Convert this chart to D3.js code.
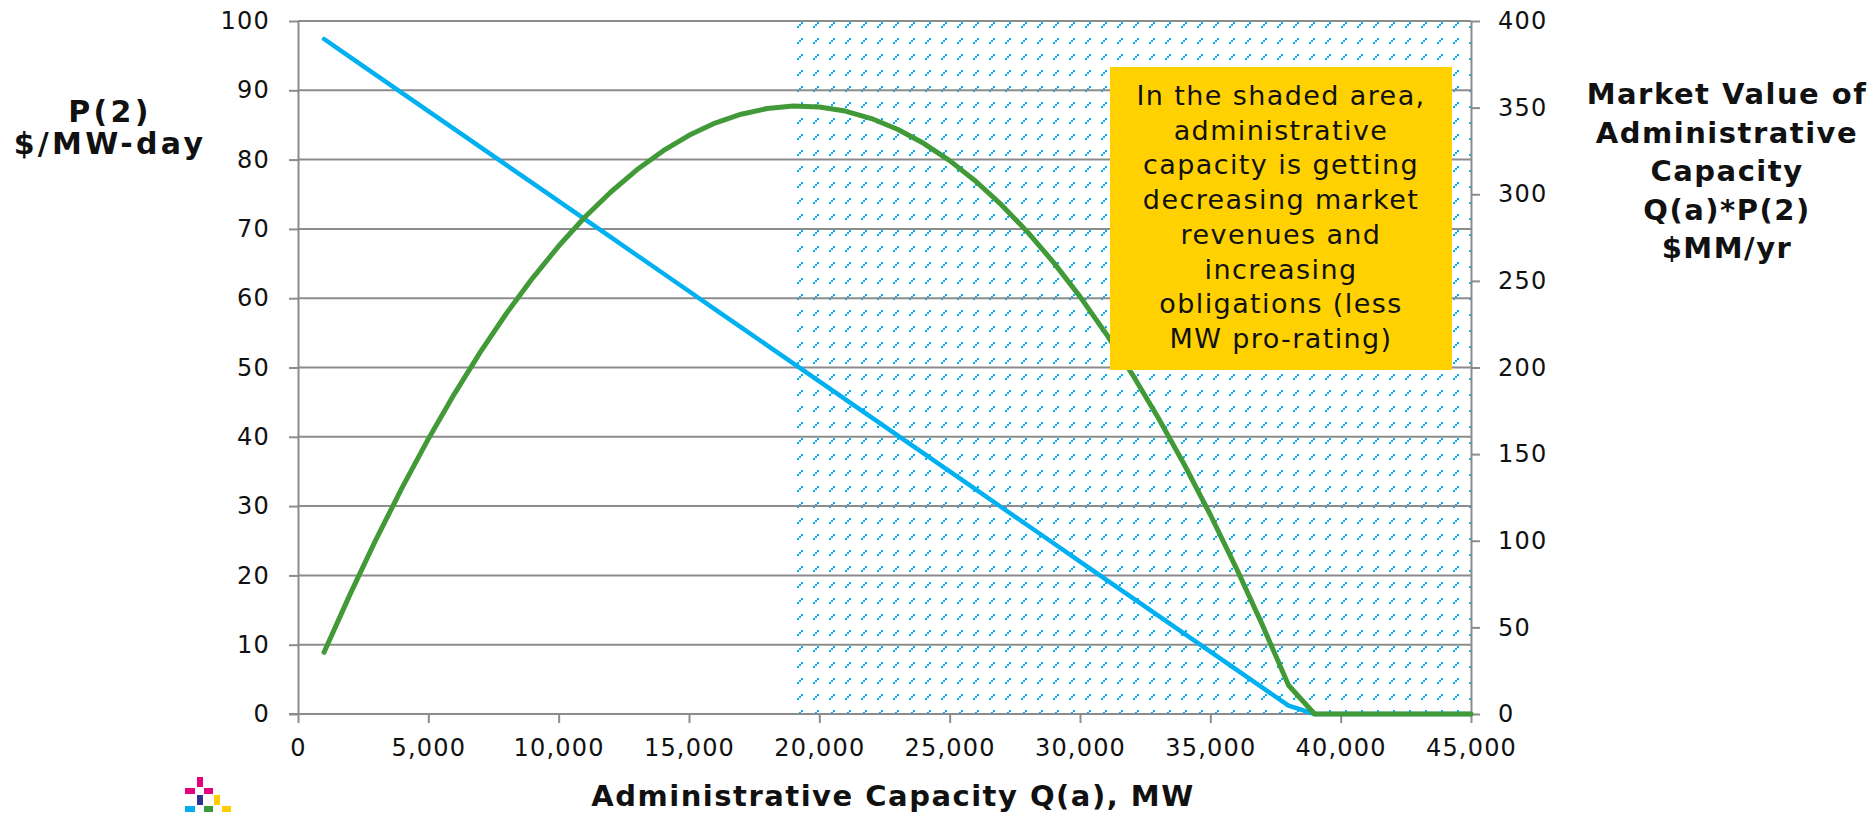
<!DOCTYPE html>
<html>
<head>
<meta charset="utf-8">
<script src="https://cdn.jsdelivr.net/npm/d3@7"></script>
<style>
  body { margin: 0; background: #fff; }
  svg text { font-family: "DejaVu Sans", Verdana, sans-serif; fill: #111; }
  .tick text { font-size: 24px; letter-spacing: 1.2px; }
  .axisTitle { font-size: 29px; font-weight: bold; letter-spacing: 1.5px; }
</style>
</head>
<body>
<div id="chart"></div>
<script>
// values
var capacityMW = [1000, 2000, 3000, 4000, 5000, 6000, 7000, 8000, 9000, 10000,
  11000, 12000, 13000, 14000, 15000, 16000, 17000, 18000, 19000, 20000,
  21000, 22000, 23000, 24000, 25000, 26000, 27000, 28000, 29000, 30000,
  31000, 32000, 33000, 34000, 35000, 36000, 37000, 38000, 39000, 40000,
  41000, 42000, 43000, 44000, 45000];

// P(2) $/MW-day, left axis
var priceP2 = [97.4, 94.8, 92.2, 89.6, 87.0, 84.4, 81.8, 79.2, 76.6, 74.0,
  71.4, 68.8, 66.2, 63.6, 61.0, 58.4, 55.8, 53.2, 50.6, 48.0,
  45.4, 42.8, 40.2, 37.6, 35.0, 32.4, 29.8, 27.2, 24.6, 22.0,
  19.4, 16.8, 14.2, 11.6, 9.0, 6.4, 3.8, 1.2, 0, 0,
  0, 0, 0, 0, 0];

// Q(a)*P(2) $MM/yr, right axis
var marketValue = [35.6, 69.2, 101.0, 130.8, 158.8, 184.8, 209.0, 231.3, 251.6, 270.1,
  286.7, 301.3, 314.1, 325.0, 334.0, 341.1, 346.2, 349.5, 350.9, 350.4,
  348.0, 343.7, 337.5, 329.4, 319.4, 307.5, 293.7, 278.0, 260.4, 240.9,
  219.5, 196.2, 171.0, 144.0, 115.0, 84.1, 51.3, 16.6, 0, 0,
  0, 0, 0, 0, 0];

var xTicks = [0, 5000, 10000, 15000, 20000, 25000, 30000, 35000, 40000, 45000];
var leftTicks = [0, 10, 20, 30, 40, 50, 60, 70, 80, 90, 100];
var rightTicks = [0, 50, 100, 150, 200, 250, 300, 350, 400];
var shadeFrom = 19000;

var noteLines = ["In the shaded area,", "administrative", "capacity is getting",
  "decreasing market", "revenues and", "increasing", "obligations (less", "MW pro-rating)"];
var leftTitle = ["P(2)", "$/MW-day"];
var rightTitle = ["Market Value of", "Administrative", "Capacity", "Q(a)*P(2)", "$MM/yr"];
var xTitle = "Administrative Capacity Q(a), MW";

var width = 1875, height = 813;
var plotLeft = 298, plotRight = 1471, plotTop = 21, plotBottom = 714;
var axisGrey = "#8c8c8c";

var svg = d3.select("#chart").append("svg")
  .attr("width", width)
  .attr("height", height);

var x = d3.scaleLinear().domain([0, 45000]).range([plotLeft, plotRight]);
var yL = d3.scaleLinear().domain([0, 100]).range([plotBottom, plotTop]);
var yR = d3.scaleLinear().domain([0, 400]).range([plotBottom, plotTop]);

// hatch for the shaded area
var defs = svg.append("defs");
var pat = defs.append("pattern")
  .attr("id", "hatch")
  .attr("patternUnits", "userSpaceOnUse")
  .attr("x", 797).attr("y", 22)
  .attr("width", 16).attr("height", 16);
[[0, 4], [2, 2], [4, 0]].forEach(function(p) {
  pat.append("rect").attr("x", p[0]).attr("y", p[1])
    .attr("width", 2).attr("height", 2).attr("fill", "#00b0f0");
});

svg.append("rect")
  .attr("x", x(shadeFrom))
  .attr("y", plotTop)
  .attr("width", x(45000) - x(shadeFrom))
  .attr("height", plotBottom - plotTop)
  .attr("fill", "url(#hatch)")
  .attr("shape-rendering", "crispEdges");

// gridlines
svg.append("g").selectAll("line")
  .data(leftTicks.filter(function(d) { return d > 0; }))
  .enter().append("line")
  .attr("x1", plotLeft).attr("x2", plotRight)
  .attr("y1", function(d) { return yL(d); })
  .attr("y2", function(d) { return yL(d); })
  .attr("stroke", axisGrey)
  .attr("stroke-width", 2);

function styleAxis(g) {
  g.select(".domain").attr("stroke", axisGrey).attr("stroke-width", 2);
  g.selectAll(".tick line").attr("stroke", axisGrey).attr("stroke-width", 2);
  g.selectAll(".tick text").attr("fill", "#111");
}

svg.append("g")
  .attr("transform", "translate(" + plotLeft + ",0)")
  .call(d3.axisLeft(yL).tickValues(leftTicks).tickSize(9).tickSizeOuter(0).tickPadding(19))
  .call(styleAxis);

svg.append("g")
  .attr("transform", "translate(" + plotRight + ",0)")
  .call(d3.axisRight(yR).tickValues(rightTicks).tickSize(9).tickSizeOuter(0).tickPadding(18))
  .call(styleAxis);

var xAxis = svg.append("g")
  .attr("transform", "translate(0," + plotBottom + ")")
  .call(d3.axisBottom(x).tickValues(xTicks).tickFormat(d3.format(",")).tickSize(9).tickSizeOuter(0).tickPadding(16))
  .call(styleAxis);
xAxis.select(".domain").attr("d", "M" + (plotLeft - 9) + ",0H" + plotRight);

// series
var idx = d3.range(capacityMW.length);

svg.append("path")
  .datum(idx)
  .attr("fill", "none")
  .attr("stroke", "#00b0f0")
  .attr("stroke-width", 4.5)
  .attr("stroke-linecap", "round")
  .attr("stroke-linejoin", "round")
  .attr("d", d3.line()
    .x(function(i) { return x(capacityMW[i]); })
    .y(function(i) { return yL(priceP2[i]); }));

svg.append("path")
  .datum(idx)
  .attr("fill", "none")
  .attr("stroke", "#419a37")
  .attr("stroke-width", 5)
  .attr("stroke-linecap", "round")
  .attr("stroke-linejoin", "round")
  .attr("d", d3.line()
    .x(function(i) { return x(capacityMW[i]); })
    .y(function(i) { return yR(marketValue[i]); }));

// note box
svg.append("rect")
  .attr("x", 1110).attr("y", 67)
  .attr("width", 342).attr("height", 303)
  .attr("fill", "#ffd100");

svg.append("text")
  .attr("text-anchor", "middle")
  .style("font-size", "27px")
  .style("letter-spacing", "1.4px")
  .selectAll("tspan")
  .data(noteLines)
  .enter().append("tspan")
  .attr("x", 1281)
  .attr("y", function(d, i) { return 105 + i * 34.7; })
  .text(function(d) { return d; });

// axis titles
svg.append("text")
  .attr("class", "axisTitle")
  .attr("text-anchor", "middle")
  .style("font-size", "30px")
  .style("letter-spacing", "3.3px")
  .selectAll("tspan")
  .data(leftTitle)
  .enter().append("tspan")
  .attr("x", 110)
  .attr("y", function(d, i) { return 122 + i * 32; })
  .text(function(d) { return d; });

svg.append("text")
  .attr("class", "axisTitle")
  .attr("text-anchor", "middle")
  .selectAll("tspan")
  .data(rightTitle)
  .enter().append("tspan")
  .attr("x", 1727)
  .attr("y", function(d, i) { return 104 + i * 38.5; })
  .text(function(d) { return d; });

svg.append("text")
  .attr("class", "axisTitle")
  .attr("text-anchor", "middle")
  .attr("x", 893)
  .attr("y", 806)
  .text(xTitle);

// little logo, bottom left
var logo = [
  [197, 777, 6, 10, "#e5007d"], [185, 788, 10, 6, "#e5007d"], [204, 788, 9, 6, "#e5007d"],
  [197, 795, 6, 10, "#2e3092"], [214, 795, 6, 10, "#ffcc00"],
  [185, 806, 10, 6, "#00adef"], [204, 806, 9, 6, "#3a9a3a"], [222, 806, 9, 6, "#ffcc00"]
];
svg.append("g").selectAll("rect")
  .data(logo)
  .enter().append("rect")
  .attr("x", function(d) { return d[0]; })
  .attr("y", function(d) { return d[1]; })
  .attr("width", function(d) { return d[2]; })
  .attr("height", function(d) { return d[3]; })
  .attr("fill", function(d) { return d[4]; });
</script>
</body>
</html>
